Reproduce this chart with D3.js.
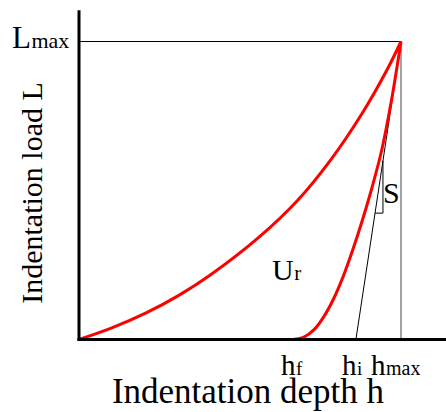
<!DOCTYPE html>
<html>
<head>
<meta charset="utf-8">
<script src="https://cdn.jsdelivr.net/npm/d3@7"></script>
<style>
  body { margin: 0; background: #fff; }
  svg { display: block; }
</style>
</head>
<body>
<div id="chart"></div>
<script>
// loading curve (h, L), arbitrary units, hmax = Lmax = 100
var loadH = [0, 10, 21, 31, 41, 56, 68, 78, 88, 96, 100];
var loadL = [0, 3.8, 9.0, 14.8, 21.8, 34.4, 46.8, 60, 76, 91.2, 100];

// unloading curve
var unloadH = [66.5, 70, 73, 76, 79, 82, 85, 88, 91, 94, 97, 100];
var unloadL = [0, 0.9, 3.3, 7.6, 13.5, 21, 30, 40, 51, 63.5, 80, 100];

// key depths / loads
var hf = 66.5, hi = 86, hmax = 100, Lmax = 100;
var axisMax = {h: 114, L: 110.5};
// slope triangle corner (h, L)
var triCorner = {h: 94.4, L: 42.4};

var width = 446, height = 412,
    serif = "'Liberation Serif'";

var x = d3.scaleLinear().domain([0, hmax]).range([79, 401]);
var y = d3.scaleLinear().domain([0, Lmax]).range([339.5, 41.5]);

var svg = d3.select("#chart").append("svg")
    .attr("width", width)
    .attr("height", height);

// tangent line helpers: through (hi,0) and (hmax,Lmax)
function tanL(h) { return (h - hi) / (hmax - hi) * Lmax; }
function tanH(L) { return hi + L / Lmax * (hmax - hi); }

// guide lines
svg.append("line")
    .attr("x1", x(0)).attr("x2", x(hmax))
    .attr("y1", y(Lmax)).attr("y2", y(Lmax))
    .style("stroke", "#000").style("stroke-width", 1);

svg.append("line")
    .attr("x1", x(hmax)).attr("x2", x(hmax))
    .attr("y1", y(Lmax)).attr("y2", y(0))
    .style("stroke", "#666").style("stroke-width", 1.2);

// tangent (stiffness S)
svg.append("line")
    .attr("x1", x(hi)).attr("x2", x(hmax))
    .attr("y1", y(0)).attr("y2", y(Lmax))
    .style("stroke", "#000").style("stroke-width", 1);

// slope triangle
svg.append("path")
    .attr("d", d3.line()([
      [x(triCorner.h), y(tanL(triCorner.h))],
      [x(triCorner.h), y(triCorner.L)],
      [x(tanH(triCorner.L)), y(triCorner.L)]
    ]))
    .style("fill", "none")
    .style("stroke", "#000")
    .style("stroke-width", 1);

// curves
var line = d3.line()
    .x(function(d) { return x(d[0]); })
    .y(function(d) { return y(d[1]); })
    .curve(d3.curveCatmullRom.alpha(0.5));

svg.append("path")
    .datum(d3.zip(loadH, loadL))
    .attr("d", line)
    .style("fill", "none")
    .style("stroke", "#ff0000")
    .style("stroke-width", 3);

svg.append("path")
    .datum(d3.zip(unloadH, unloadL))
    .attr("d", line)
    .style("fill", "none")
    .style("stroke", "#ff0000")
    .style("stroke-width", 3);

// axes
svg.append("line")
    .attr("x1", x(0)).attr("x2", x(0))
    .attr("y1", y(axisMax.L)).attr("y2", y(0) + 1.5)
    .style("stroke", "#000").style("stroke-width", 3);

svg.append("line")
    .attr("x1", x(0) - 1.5).attr("x2", x(axisMax.h))
    .attr("y1", y(0)).attr("y2", y(0))
    .style("stroke", "#000").style("stroke-width", 3);

// labels with subscripts
function subLabel(px, py, main, sub, size, subSize) {
  var t = svg.append("text")
      .attr("x", px).attr("y", py)
      .style("font-family", serif)
      .style("font-size", size + "px");
  t.append("tspan").text(main);
  t.append("tspan").attr("dx", 0.5).style("font-size", subSize + "px").text(sub);
  return t;
}

subLabel(12, 48, "L", "max", 31, 22);
subLabel(281, 375, "h", "f", 29, 19);
subLabel(342, 375, "h", "i", 29, 19);
subLabel(371, 375, "h", "max", 29, 20);
subLabel(272, 280, "U", "r", 30, 21);

svg.append("text")
    .attr("x", 383).attr("y", 203)
    .style("font-family", serif)
    .style("font-size", "30px")
    .text("S");

svg.append("text")
    .attr("x", 248).attr("y", 403)
    .attr("text-anchor", "middle")
    .style("font-family", serif)
    .style("font-size", "35px")
    .text("Indentation depth h");

svg.append("text")
    .attr("transform", "translate(42,193) rotate(-90)")
    .attr("text-anchor", "middle")
    .style("font-family", serif)
    .style("font-size", "30px")
    .text("Indentation load L");
</script>
</body>
</html>
